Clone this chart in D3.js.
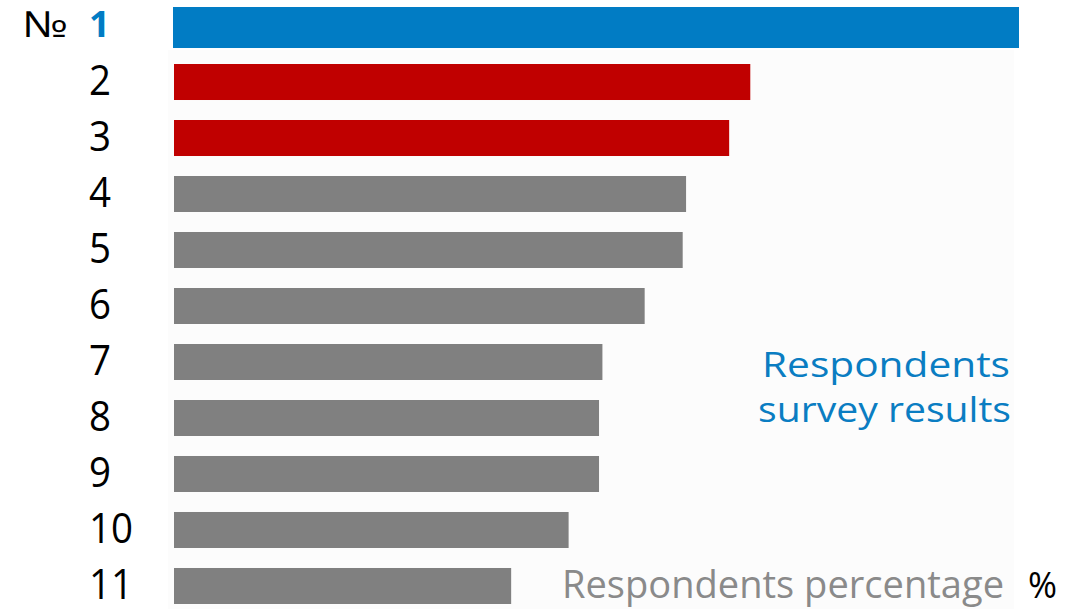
<!DOCTYPE html>
<html>
<head>
<meta charset="utf-8">
<script src="https://cdn.jsdelivr.net/npm/d3@7"></script>
<style>
  html, body { margin: 0; padding: 0; background: #ffffff; }
  svg { display: block; }
  text { font-family: "Open Sans", "Noto Sans", sans-serif; }
</style>
</head>
<body>
<svg id="chart" width="1089" height="609"></svg>
<script>
// Rank positions shown on the left
const ranks = ["1", "2", "3", "4", "5", "6", "7", "8", "9", "10", "11"];
// Share of respondents per rank (relative, top answer = 100)
const shares = [100, 68.2, 65.7, 60.6, 60.2, 55.7, 50.7, 50.3, 50.3, 46.7, 39.9];
// Highlight tier for each rank: leader, runners-up, rest
const tiers = ["top", "runner", "runner", "rest", "rest", "rest", "rest", "rest", "rest", "rest", "rest"];

const tierColor = { top: "#017cc4", runner: "#c00000", rest: "#808080" };

const svg = d3.select("#chart");

// Very light panel behind the bars
svg.append("rect")
  .attr("x", 168).attr("y", 50).attr("width", 846).attr("height", 559)
  .attr("fill", "#fcfcfc");

const x = d3.scaleLinear().domain([0, d3.max(shares)]).range([174, 1019]);
const y = d3.scaleBand().domain(ranks).range([-2, 614]).paddingInner(0.357).paddingOuter(0.1786);

const rows = ranks.map((r, i) => ({ rank: r, share: shares[i], tier: tiers[i] }));

// Bars; the leading bar is drawn a little thicker
svg.append("g").selectAll("rect")
  .data(rows)
  .join("rect")
  .attr("x", d => d.tier === "top" ? x(0) - 1 : x(0))
  .attr("y", d => d.tier === "top" ? y(d.rank) - 1 : y(d.rank))
  .attr("width", d => x(d.share) - x(0) + (d.tier === "top" ? 1 : 0))
  .attr("height", d => d.tier === "top" ? y.bandwidth() + 5 : y.bandwidth())
  .attr("fill", d => tierColor[d.tier]);

// Fit a text element's rendered width to a given length
function fit(sel, len) {
  sel.attr("textLength", len).attr("lengthAdjust", "spacingAndGlyphs");
  return sel;
}

// Rank labels on the left, drawn with a left axis
const axis = svg.append("g")
  .attr("transform", `translate(${x(0)},0)`)
  .call(d3.axisLeft(y).tickSize(0).tickPadding(0));
axis.select(".domain").remove();
axis.selectAll(".tick text")
  .attr("text-anchor", "start")
  .attr("x", -85)
  .attr("dy", null)
  .attr("y", d => d === "1" ? 11 : 13)
  .style("font-family", "'Open Sans', sans-serif")
  .style("font-size", d => d === "1" ? "36px" : "42px")
  .style("font-weight", d => d === "1" ? "700" : "400")
  .attr("fill", d => d === "1" ? tierColor.top : "#000000")
  .each(function (d) {
    fit(d3.select(this), d === "1" ? 21 : 22 * d.length);
  });

// "№" prefix beside the first rank
fit(svg.append("text")
  .attr("x", 22).attr("y", 37)
  .attr("font-size", 36)
  .attr("fill", "#000000")
  .text("№"), 46);

// Title block on the right
const title = svg.append("g").attr("fill", "#0a7dc2").attr("font-size", 35).attr("text-anchor", "end");
fit(title.append("text").attr("x", 1010).attr("y", 377).text("Respondents"), 248);
fit(title.append("text").attr("x", 1011).attr("y", 422).text("survey results"), 253);

// Value axis caption at the bottom
fit(svg.append("text")
  .attr("x", 562).attr("y", 598)
  .attr("font-size", 39)
  .attr("fill", "#8a8a8a")
  .text("Respondents percentage"), 442);
fit(svg.append("text")
  .attr("x", 1028).attr("y", 598)
  .attr("font-size", 37)
  .attr("fill", "#000000")
  .text("%"), 29);
</script>
</body>
</html>
